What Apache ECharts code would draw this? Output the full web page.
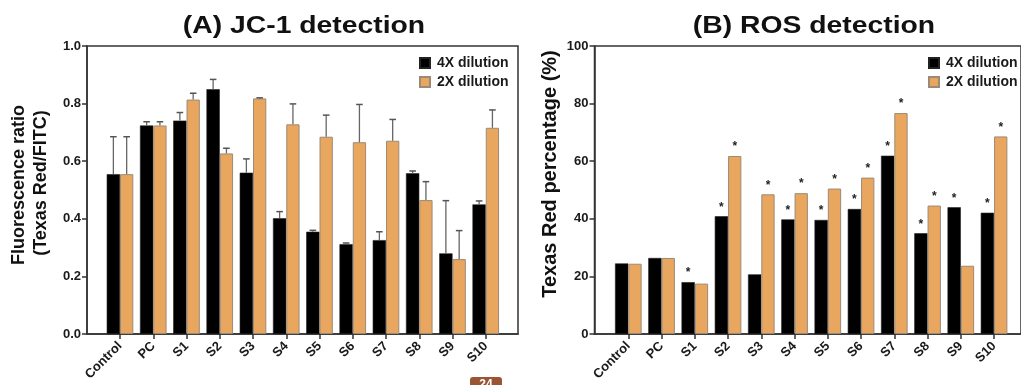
<!DOCTYPE html>
<html>
<head>
<meta charset="utf-8">
<script src="https://cdn.jsdelivr.net/npm/echarts@6/dist/echarts.min.js"></script>
<style>
html,body{margin:0;padding:0;background:#fff;}
#chart{width:1021px;height:385px;}
</style>
</head>
<body>
<div id="chart"></div>
<script>
// ---------- data ----------
const categories = ['Control','PC','S1','S2','S3','S4','S5','S6','S7','S8','S9','S10'];
const seriesNames = ['4X dilution','2X dilution'];

// (A) JC-1: fluorescence ratio (mean) and error (upper SD)
const jc1_4x     = [0.555,0.724,0.741,0.850,0.560,0.402,0.355,0.312,0.326,0.558,0.280,0.450];
const jc1_4x_err = [0.130,0.013,0.028,0.034,0.048,0.023,0.005,0.004,0.029,0.008,0.183,0.012];
const jc1_2x     = [0.555,0.724,0.814,0.627,0.818,0.728,0.685,0.666,0.671,0.465,0.260,0.716];
const jc1_2x_err = [0.130,0.013,0.022,0.018,0.002,0.071,0.075,0.131,0.074,0.064,0.099,0.062];

// (B) ROS: Texas Red percentage
const ros_4x     = [24.5,26.4,18.0,40.9,20.7,39.8,39.6,43.4,61.9,35.0,44.0,42.1];
const ros_2x     = [24.4,26.4,17.5,61.8,48.5,48.9,50.5,54.3,76.7,44.6,23.7,68.6];
const ros_4x_sig = [0,0,1,1,0,1,1,1,1,1,1,1];
const ros_2x_sig = [0,0,0,1,1,1,1,1,1,1,0,1];

const jc1Ticks = [0.0,0.2,0.4,0.6,0.8,1.0];
const rosTicks = [0,20,40,60,80,100];

// ---------- styles ----------
const FONT = '"Liberation Sans", Arial, Helvetica, sans-serif';
const AXIS = '#333';
const TXT = '#1a1a1a';
const ORANGE = '#E9A65E';
const BAR_W = 13.3;
const OFF = BAR_W / 2;

const chart = echarts.init(document.getElementById('chart'), null, {renderer:'canvas'});

function frameGrid(left, width) {
  return {left: left, top: 46, width: width, height: 288, show: true,
          borderColor: AXIS, borderWidth: 1.5, backgroundColor: 'transparent', containLabel: false};
}
function barGrid(left, width) {
  return {left: left, top: 46, width: width, height: 288, containLabel: false};
}

function errData(vals, errs) { return vals.map((v,i)=>[i, v, errs[i]]); }
function sigData(vals, sig) { const out=[]; vals.forEach((v,i)=>{ if (sig[i]) out.push([i, v]); }); return out; }

function errSeries(xi, yi, data, off) {
  return {
    type: 'custom', xAxisIndex: xi, yAxisIndex: yi, z: 5, silent: true,
    data: data,
    renderItem: function(params, api) {
      const i = api.value(0), v = api.value(1), e = api.value(2);
      const p0 = api.coord([i, v]);
      const p1 = api.coord([i, v + e]);
      const x = p0[0] + off;
      return {type: 'group', children: [
        {type:'line', shape:{x1:x, y1:p0[1], x2:x, y2:p1[1]}, style:{stroke:'#666', lineWidth:1.3}},
        {type:'line', shape:{x1:x-3.3, y1:p1[1], x2:x+3.3, y2:p1[1]}, style:{stroke:'#555', lineWidth:1.5}}
      ]};
    }
  };
}
function starSeries(xi, yi, data, off) {
  return {
    type: 'custom', xAxisIndex: xi, yAxisIndex: yi, z: 5, silent: true,
    data: data,
    renderItem: function(params, api) {
      const p = api.coord([api.value(0), api.value(1)]);
      return {type:'text', x: p[0] + off, y: p[1] - 3,
        style:{text:'*', fill:'#222', font:'bold 12px ' + FONT, textAlign:'center', textVerticalAlign:'bottom'}};
    }
  };
}

const catAxis = (gi) => ({
  type: 'category', gridIndex: gi, data: categories,
  axisLine: {show: false},
  axisTick: {show: true, alignWithLabel: true, length: 5, lineStyle: {color: AXIS, width: 1.5}},
  axisLabel: {rotate: 45, margin: 10, color: TXT, fontFamily: FONT, fontWeight: 'bold', fontSize: 13, interval: 0}
});
const frameX = (gi) => ({type:'value', gridIndex: gi, min:0, max:1, show:true,
  axisLine:{show:true, lineStyle:{color:AXIS, width:1.5}}, axisTick:{show:false}, axisLabel:{show:false}, splitLine:{show:false}});
const frameY = (gi, ticks, fmt) => ({
  type:'value', gridIndex: gi, min: ticks[0], max: ticks[ticks.length-1], interval: ticks[1]-ticks[0],
  axisLine:{show:true, lineStyle:{color:AXIS, width:1.5}},
  axisTick:{show:true, inside:false, length:5, lineStyle:{color:AXIS, width:1.5}},
  axisLabel:{color:TXT, fontFamily:FONT, fontWeight:'bold', fontSize:13, margin:6, formatter: fmt},
  splitLine:{show:false}
});
const hiddenY = (gi, ticks) => ({type:'value', gridIndex: gi, min: ticks[0], max: ticks[ticks.length-1], show:false, splitLine:{show:false}});

const blackStyle = {color:'#000', borderColor:'#222', borderWidth:0.6};
const orangeStyle = {color: ORANGE, borderColor:'#9b8a78', borderWidth:1};

const legendBase = {
  orient:'vertical', top: 56, padding: 0, itemWidth: 10, itemHeight: 10, itemGap: 5,
  icon: 'rect', data: seriesNames,
  textStyle: {color: TXT, fontFamily: FONT, fontWeight:'bold', fontSize: 14, padding: [0,0,0,2]}
};

const option = {
  animation: false,
  backgroundColor: '#fff',
  grid: [frameGrid(87, 431), barGrid(103.4, 399), frameGrid(594.5, 440), barGrid(611.7, 399)],
  xAxis: [frameX(0), catAxis(1), frameX(2), catAxis(3)],
  yAxis: [
    frameY(0, jc1Ticks, v => v.toFixed(1)), hiddenY(1, jc1Ticks),
    frameY(2, rosTicks, v => String(v)), hiddenY(3, rosTicks)
  ],
  legend: [
    Object.assign({}, legendBase, {left: 419}),
    Object.assign({}, legendBase, {left: 928})
  ],
  series: [
    {name: seriesNames[0], type:'bar', xAxisIndex:1, yAxisIndex:1, data: jc1_4x, barWidth: BAR_W, barGap:'0%', itemStyle: blackStyle},
    {name: seriesNames[1], type:'bar', xAxisIndex:1, yAxisIndex:1, data: jc1_2x, barWidth: BAR_W, barGap:'0%', itemStyle: orangeStyle},
    errSeries(1, 1, errData(jc1_4x, jc1_4x_err), -OFF),
    errSeries(1, 1, errData(jc1_2x, jc1_2x_err), OFF),
    {name: seriesNames[0], type:'bar', xAxisIndex:3, yAxisIndex:3, data: ros_4x, barWidth: BAR_W, barGap:'0%', itemStyle: blackStyle},
    {name: seriesNames[1], type:'bar', xAxisIndex:3, yAxisIndex:3, data: ros_2x, barWidth: BAR_W, barGap:'0%', itemStyle: orangeStyle},
    starSeries(3, 3, sigData(ros_4x, ros_4x_sig), -OFF),
    starSeries(3, 3, sigData(ros_2x, ros_2x_sig), OFF)
  ],
  graphic: [
    {type:'text', x: 304, y: 26, scaleX: 1.18, style:{text:'(A) JC-1 detection', font:'bold 24px ' + FONT, fill:'#111', textAlign:'center', textVerticalAlign:'middle'}},
    {type:'text', x: 814, y: 26, scaleX: 1.18, style:{text:'(B) ROS detection', font:'bold 24px ' + FONT, fill:'#111', textAlign:'center', textVerticalAlign:'middle'}},
    {type:'text', x: 19, y: 185, rotation: Math.PI/2, style:{text:'Fluorescence ratio', font:'bold 18px ' + FONT, fill:'#111', textAlign:'center', textVerticalAlign:'middle'}},
    {type:'text', x: 41, y: 183, rotation: Math.PI/2, style:{text:'(Texas Red/FITC)', font:'bold 18px ' + FONT, fill:'#111', textAlign:'center', textVerticalAlign:'middle'}},
    {type:'text', x: 550, y: 174, rotation: Math.PI/2, style:{text:'Texas Red percentage (%)', font:'bold 20px ' + FONT, fill:'#111', textAlign:'center', textVerticalAlign:'middle'}},
    {type:'rect', x: 470, y: 377, shape:{width: 32, height: 16, r: 3}, style:{fill:'#9A5535'}},
    {type:'text', x: 486, y: 385, style:{text:'24', font:'bold 12px ' + FONT, fill:'#fff', textAlign:'center', textVerticalAlign:'middle'}}
  ]
};
chart.setOption(option);
</script>
</body>
</html>
